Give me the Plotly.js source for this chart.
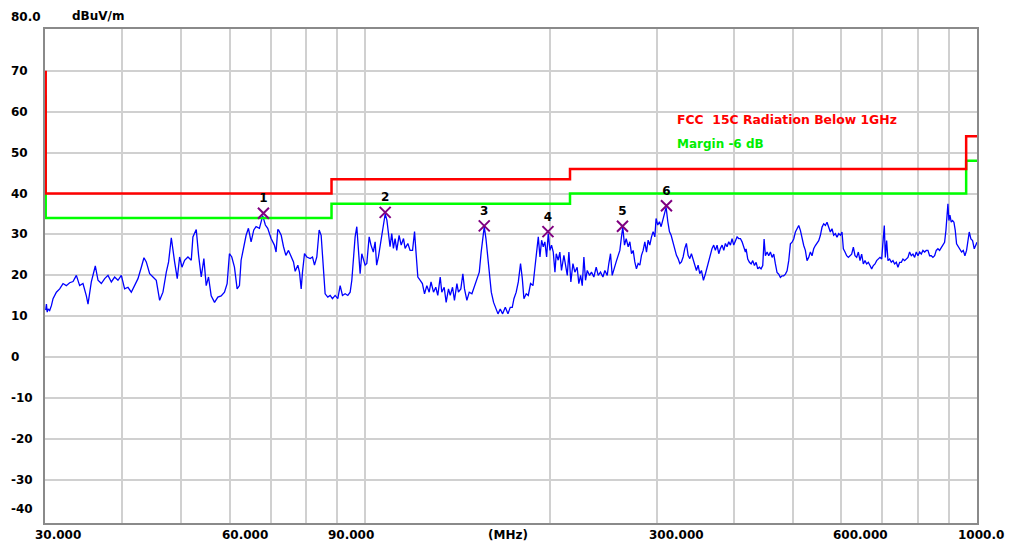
<!DOCTYPE html>
<html><head><meta charset="utf-8">
<script src="https://cdn.plot.ly/plotly-3.0.1.min.js"></script>
<style>html,body{margin:0;padding:0;background:#fff}#chart{width:1017px;height:548px}</style>
</head><body><div id="chart"></div>
<script>
// ---- data ----
const traceFreq = [
30.0,30.08,30.17,30.26,30.45,30.65,30.84,31.23,31.62,32.02,32.42,32.83,33.25,33.67,34.09,34.52,34.96,35.18,35.62,36.16,36.53,36.99,37.46,37.93,38.41,38.89,39.38,39.88,40.38,40.89,41.41,41.93,42.46,43.00,43.43,43.81,44.37,44.93,45.49,46.07,46.65,47.24,47.65,48.14,48.44,48.74,49.23,49.67,50.11,50.61,51.25,51.90,52.22,52.88,53.35,53.88,54.42,54.90,55.38,55.94,56.65,57.36,58.08,58.81,59.40,59.92,60.45,61.06,61.68,62.22,62.61,63.24,63.80,64.36,65.01,65.67,66.24,67.08,67.92,68.60,69.21,70.09,70.97,71.42,71.87,
72.08,72.81,73.45,74.10,74.84,75.60,76.26,76.75,77.52,78.00,78.50,78.89,79.49,80.19,81.20,81.92,82.53,83.26,84.00,84.63,85.16,85.91,86.78,87.55,88.31,89.21,90.11,90.91,91.71,92.63,93.57,94.40,94.99,95.59,96.18,96.79,97.40,98.01,98.63,99.25,99.87,100.5,101.4,102.1,103.0,103.7,104.3,105.0,106.0,107.0,107.7,108.4,109.0,109.7,110.4,111.1,111.8,112.5,113.5,114.4,115.4,116.1,117.3,118.3,119.4,120.3,120.9,121.8,122.9,123.9,124.9,126.0,127.1,128.0,129.2,130.3,131.3,132.5,133.3,134.5,135.5,136.7,137.6,138.8,139.8,141.1,141.9,143.2,144.3,145.2,146.5,147.8,149.3,150.8,152.1,153.5,154.6,155.6,156.4,157.4,158.6,159.4,160.6,162.0,163.4,164.7,166.1,167.6,169.3,171.0,172.5,
173.8,174.9,176.4,177.8,179.3,180.5,181.6,183.2,184.6,186.2,187.9,189.3,190.2,191.7,192.9,194.1,195.3,196.5,197.8,199.0,200.3,201.5,202.8,204.1,205.1,206.6,207.9,209.2,211.1,212.4,213.8,215.1,216.7,218.4,220.0,221.9,223.3,224.8,226.2,227.6,229.0,230.5,232.5,234.2,236.3,238.4,240.2,242.3,244.5,246.3,248.5,250.0,251.6,253.2,254.8,257.0,259.0,260.6,262.2,263.5,265.2,266.9,268.9,270.6,272.3,274.0,275.7,277.4,279.2,281.0,282.7,284.5,286.3,288.1,289.9,291.7,293.6,295.4,297.3,298.7,300.6,302.5,304.4,306.3,308.3,310.2,312.2,314.1,316.1,318.1,320.5,322.5,324.5,326.6,328.6,330.7,332.8,334.8,337.0,339.1,341.2,343.4,345.5,347.7,349.9,352.1,354.3,357.0,359.7,361.9,364.2,366.5,368.8,371.1,373.4,375.8,378.2,380.6,383.0,385.4,387.8,390.2,392.7,395.2,397.6,400.1,402.7,405.2,407.7,410.3,412.9,415.5,418.1,
419.2,421.8,424.5,427.2,429.8,432.6,435.3,438.0,440.8,443.5,446.3,448.6,450.8,453.7,456.5,459.4,462.3,465.2,468.1,471.0,474.0,477.0,480.0,483.0,486.1,489.1,492.2,495.3,498.4,501.5,504.7,507.9,511.1,514.3,517.5,520.8,524.0,527.3,530.6,534.0,537.3,540.7,544.1,547.6,551.0,554.5,558.0,561.5,565.0,568.5,572.1,575.7,579.3,583.0,586.7,590.3,594.1,597.8,601.5,604.6,608.4,612.2,616.1,619.9,623.8,627.8,631.7,635.7,639.7,643.7,647.7,651.8,655.9,660.0,664.2,668.4,672.6,676.8,681.1,685.3,689.7,694.0,698.4,702.8,705.4,708.1,711.6,715.2,719.7,724.2,728.8,733.4,738.0,742.6,747.3,752.0,756.7,761.5,766.3,771.1,775.9,780.8,785.7,790.7,795.6,800.7,805.7,810.8,815.8,821.0,826.1,831.3,836.6,841.8,847.1,852.5,857.8,863.2,868.6,874.1,879.6,885.1,889.6,892.9,896.3,899.7,903.1,907.6,912.2,916.8,921.4,926.0,931.9,937.7,943.6,949.6,955.5,961.5,967.6,971.2,977.3,983.5,989.7,995.9,1000
];
const traceLevel = [
11.5,13.0,11.0,11.8,11.4,12.6,14.3,15.9,16.7,18.0,17.5,18.2,18.5,20.0,17.5,18.0,15.0,13.0,18.4,22.3,18.8,18.0,19.2,20.0,18.4,19.6,18.8,20.0,16.7,17.1,15.9,17.5,19.2,22.0,24.3,23.3,20.4,19.6,18.8,13.9,15.9,20.8,23.3,29.2,25.7,23.3,19.2,24.5,22.0,23.7,24.5,23.7,29.4,31.2,24.9,19.6,24.1,17.5,19.6,15.0,13.4,14.7,15.0,15.9,18.0,25.3,24.5,22.0,16.7,17.5,23.7,27.4,29.8,31.5,28.2,31.1,31.9,31.5,34.6,32.3,31.5,29.0,27.4,25.7,31.1,
31.1,29.8,27.0,24.9,26.1,24.5,23.3,21.0,22.5,20.8,16.7,20.8,25.3,24.5,24.1,24.5,22.5,24.5,31.1,29.8,23.3,15.5,14.7,15.1,14.3,15.1,14.3,17.5,15.1,15.5,15.1,15.9,18.8,23.7,29.4,31.9,26.6,20.4,25.3,23.7,22.5,22.9,29.4,27.4,25.7,28.2,22.5,24.5,28.2,31.5,35.0,33.5,29.8,27.0,30.2,26.6,29.0,26.1,29.8,27.4,29.0,26.6,27.8,26.1,26.1,30.7,26.1,19.6,18.8,18.0,15.5,17.5,15.9,18.4,15.9,17.1,15.1,19.6,15.9,17.1,13.4,16.7,15.1,17.1,13.9,18.0,15.9,16.7,20.4,16.7,13.9,15.9,15.5,17.5,18.8,20.8,25.7,29.8,31.9,29.0,23.3,20.0,15.9,13.4,11.8,10.6,11.8,10.6,12.2,10.6,12.2,
12.2,14.3,15.9,18.4,22.9,19.2,14.3,15.5,15.1,18.0,17.5,22.0,24.9,29.4,24.5,28.6,27.0,28.2,24.5,30.2,26.1,27.4,25.7,20.8,25.3,23.7,25.7,21.2,24.9,22.9,20.0,25.7,18.4,22.9,20.8,22.0,18.0,20.0,17.5,24.5,18.8,21.2,20.0,20.8,19.6,22.0,20.0,20.8,19.6,21.2,20.0,22.9,25.3,20.0,21.6,23.3,24.9,26.1,29.4,31.8,27.4,29.0,27.0,28.2,25.3,26.1,23.3,21.6,22.9,22.5,24.9,26.1,28.2,25.7,28.6,27.4,29.4,30.7,29.4,33.9,32.3,33.1,31.9,33.5,34.8,36.6,33.1,30.7,29.8,28.2,27.0,24.9,24.1,22.9,23.3,24.5,26.6,27.8,24.9,24.1,25.3,23.7,22.5,21.2,22.5,20.4,21.2,18.8,20.4,22.0,23.7,24.9,26.6,27.4,26.1,27.4,25.3,26.6,27.4,26.1,27.8,27.0,28.2,27.4,29.0,27.4,28.6,29.4,29.0,29.0,28.2,27.0,25.7,
26.5,24.0,23.2,22.8,23.6,22.4,23.2,21.6,22.0,21.6,22.4,28.9,24.8,25.7,24.8,25.7,24.4,25.2,22.8,20.7,20.3,19.5,19.9,19.9,20.3,21.1,23.6,27.7,28.1,28.9,30.6,31.4,32.2,31.0,28.9,27.3,26.1,23.6,24.4,25.7,24.8,26.5,27.3,28.1,28.5,29.8,31.8,32.6,32.2,33.0,31.8,30.6,31.4,29.8,30.2,29.3,30.2,29.8,30.6,26.5,25.7,24.8,24.4,24.8,25.2,26.9,24.8,24.4,25.7,23.6,25.2,22.8,23.6,22.8,23.2,22.4,21.6,22.4,22.8,23.6,24.0,24.4,24.0,28.5,32.2,24.4,28.5,23.6,24.0,23.2,23.6,22.8,23.2,22.0,23.2,23.2,24.0,23.6,24.0,24.4,25.7,24.8,25.2,24.4,25.7,24.8,25.7,25.2,26.1,25.7,26.1,26.1,24.8,24.8,24.4,24.8,26.1,26.5,26.1,26.9,27.7,28.1,31.0,34.3,37.5,33.4,34.7,33.0,33.4,33.0,31.0,27.7,26.9,26.1,25.7,26.1,24.8,26.1,28.5,30.6,28.9,28.5,26.5,27.7,28.1
];
const limitFreq = [30, 30, 88, 88, 216, 216, 960, 960, 1000];
const limitLevel = [70, 40, 40, 43.5, 43.5, 46, 46, 54, 54];
const marginLevel = [64, 34, 34, 37.5, 37.5, 40, 40, 48, 48];
const markerFreq = [68.1, 107.7, 156.4, 198.8, 263.2, 310.6];
const markerLevel = [35.2, 35.4, 32.1, 30.7, 32.0, 37.0];
const markerLabels = ['1', '2', '3', '4', '5', '6'];
const yTickVals = [80, 70, 60, 50, 40, 30, 20, 10, 0, -10, -20, -30, -40];
const yTickText = ['80.0', '70', '60', '50', '40', '30', '20', '10', '0', '-10', '-20', '-30', '-40'];
const xTickVals = [30, 60, 90, 300, 600, 1000];
const xTickText = ['30.000', '60.000', '90.000', '300.000', '600.000', '1000.0'];
const xGridVals = [40, 50, 60, 70, 80, 90, 100, 200, 300, 400, 500, 600, 700, 800, 900];
const yGridVals = [-30, -20, -10, 0, 10, 20, 30, 40, 50, 60, 70];
const unitY = 'dBuV/m';
const unitX = '(MHz)';
const limitName = 'FCC&nbsp;&nbsp;15C Radiation Below 1GHz';
const marginName = 'Margin -6 dB';

// ---- styling / layout ----
const FONT = 'DejaVu Sans, sans-serif';
const plotL = 45, plotR = 977, plotT = 29, plotB = 523, W = 1017, H = 548;
const pw = plotR - plotL, ph = plotB - plotT;
const px2paperX = p => (p - plotL) / pw;
const px2paperY = p => 1 - (p - plotT) / ph;

const annotations = [];
yTickVals.forEach((v, i) => {
  let ys = 0;
  if (i === 0) ys = 13;
  if (i === yTickVals.length - 1) ys = 12;
  annotations.push({xref: 'paper', yref: 'y', x: px2paperX(9), y: v, yshift: ys,
    xanchor: 'left', yanchor: 'middle', showarrow: false, text: '<b>' + yTickText[i] + '</b>',
    font: {family: FONT, size: 12, color: '#000'}});
});
const xShift = [-13, -10, -11, -10, -10, -21];
xTickVals.forEach((v, i) => {
  annotations.push({xref: 'x', yref: 'paper', x: Math.log10(v), y: px2paperY(535), xshift: xShift[i],
    xanchor: 'left', yanchor: 'middle', showarrow: false, text: '<b>' + xTickText[i] + '</b>',
    font: {family: FONT, size: 12, color: '#000'}});
});
annotations.push({xref: 'paper', yref: 'paper', x: px2paperX(508), y: px2paperY(535), xanchor: 'center', yanchor: 'middle',
  showarrow: false, text: '<b>' + unitX + '</b>', font: {family: FONT, size: 12, color: '#000'}});
annotations.push({xref: 'paper', yref: 'paper', x: px2paperX(70), y: px2paperY(16), xanchor: 'left', yanchor: 'middle',
  showarrow: false, text: '<b>' + unitY + '</b>', font: {family: FONT, size: 12, color: '#000'}});
annotations.push({xref: 'paper', yref: 'paper', x: px2paperX(675), y: px2paperY(119), xanchor: 'left', yanchor: 'middle',
  showarrow: false, text: '<b>' + limitName + '</b>', font: {family: FONT, size: 12.4, color: '#ff0000'}});
annotations.push({xref: 'paper', yref: 'paper', x: px2paperX(675), y: px2paperY(143.5), xanchor: 'left', yanchor: 'middle',
  showarrow: false, text: '<b>' + marginName + '</b>', font: {family: FONT, size: 12, color: '#00ee00'}});

const data = [
  {x: traceFreq, y: traceLevel, type: 'scatter', mode: 'lines', line: {color: '#0000ff', width: 1.3}, hoverinfo: 'skip'},
  {x: limitFreq, y: marginLevel, type: 'scatter', mode: 'lines', line: {color: '#00ff00', width: 2.5}, cliponaxis: false},
  {x: limitFreq, y: limitLevel, type: 'scatter', mode: 'lines', line: {color: '#ff0000', width: 2.5}, cliponaxis: false},
  {x: markerFreq, y: markerLevel, type: 'scatter', mode: 'markers+text', text: markerLabels,
   textposition: 'top center', textfont: {family: FONT, size: 12, color: '#000', weight: 'bold'},
   marker: {symbol: 'x-thin-open', size: 11, color: '#800080', line: {color: '#800080', width: 2}}, cliponaxis: false}
];

const layout = {
  width: W, height: H,
  margin: {l: plotL, r: W - plotR, t: plotT, b: H - plotB, pad: 0},
  paper_bgcolor: '#ffffff', plot_bgcolor: '#ffffff',
  showlegend: false,
  xaxis: {type: 'log', range: [Math.log10(29.92), Math.log10(1000)], tickmode: 'array', tickvals: xGridVals,
    showticklabels: false, ticks: '', showgrid: true, gridcolor: '#d0d0d0', gridwidth: 2,
    showline: true, mirror: true, linecolor: '#8a8a8a', linewidth: 2, zeroline: false, fixedrange: true, layer: 'below traces'},
  yaxis: {range: [-40.5, 80.2], tickmode: 'array', tickvals: yGridVals,
    showticklabels: false, ticks: '', showgrid: true, gridcolor: '#d0d0d0', gridwidth: 2,
    showline: true, mirror: true, linecolor: '#8a8a8a', linewidth: 2, zeroline: false, fixedrange: true, layer: 'below traces'},
  annotations: annotations
};

Plotly.newPlot('chart', data, layout, {staticPlot: true, displayModeBar: false});
</script>
</body></html>
